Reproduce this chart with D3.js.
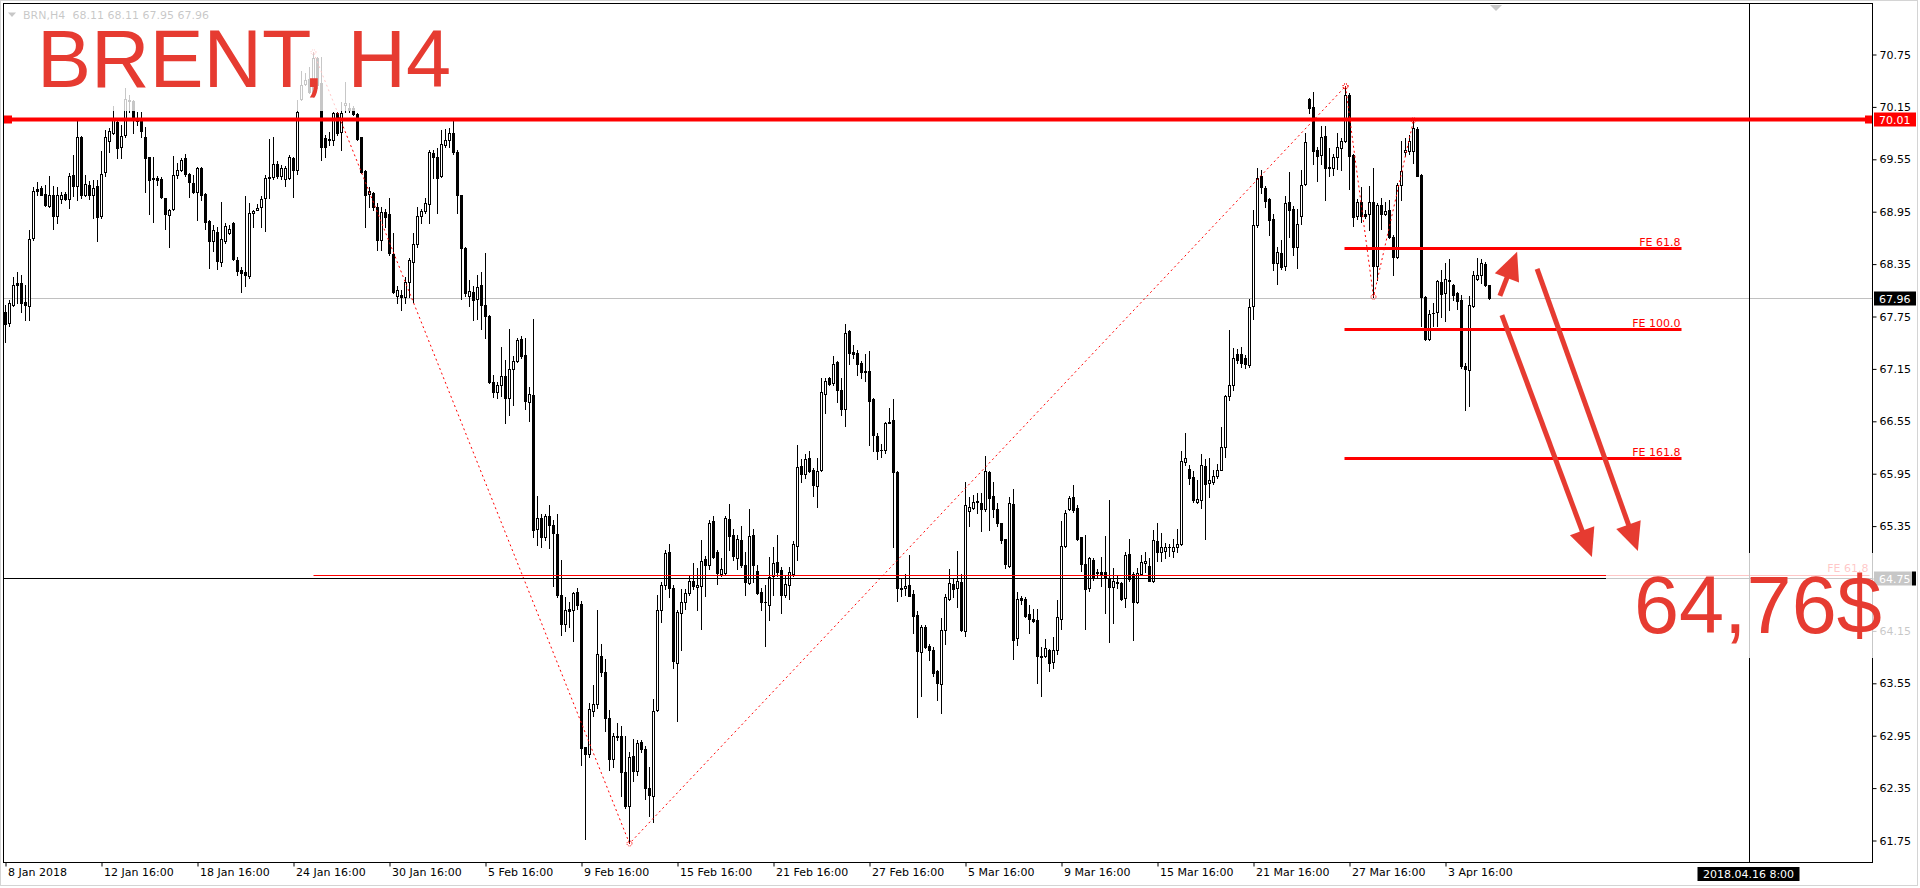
<!DOCTYPE html>
<html><head><meta charset="utf-8">
<script src="https://cdn.jsdelivr.net/npm/d3@7"></script>
<style>body{margin:0;background:#fff;overflow:hidden}svg{display:block}</style>
</head><body>
<svg id="c" width="1920" height="888"></svg>
<script>
// ---- data: BRN H4 candles (bar index 0 = 8 Jan 2018) ----
const openP = [
67.80,67.67,67.88,68.13,68.13,67.91,67.87,68.64,69.20,69.21,
69.15,69.01,69.14,68.89,69.09,69.15,69.09,69.36,69.24,69.80,
69.14,69.25,69.14,69.24,68.89,69.40,69.75,69.85,69.97,69.68,
69.82,70.22,70.21,70.00,70.00,69.80,69.57,69.33,69.33,69.32,
69.10,68.91,68.97,69.37,69.42,69.56,69.38,69.27,69.17,69.44,
69.15,68.84,68.61,68.71,68.37,68.61,68.70,68.82,68.39,68.28,
68.25,68.21,68.93,68.96,69.00,69.10,69.33,69.34,69.49,69.35,
69.32,69.33,69.56,69.42,70.23,70.41,70.46,70.30,70.70,70.42,
69.79,69.78,69.77,70.07,69.86,70.17,70.13,70.13,70.06,69.80,
69.41,69.15,69.16,69.00,68.62,68.94,68.92,68.46,67.98,67.99,
67.97,68.14,68.37,68.57,68.89,68.95,69.03,69.62,69.57,69.35,
69.71,69.77,69.84,69.63,69.13,68.53,67.98,68.03,67.94,68.10,
67.88,67.75,66.99,66.88,66.96,67.06,66.81,67.14,67.24,67.49,
67.30,66.77,66.84,65.31,65.44,65.22,65.46,65.36,65.25,64.55,
64.22,64.39,64.38,64.59,64.45,62.82,62.74,63.23,63.31,63.86,
63.67,63.15,62.68,62.94,62.94,62.53,62.14,62.71,62.54,62.87,
62.79,62.34,62.25,63.24,64.38,64.67,65.05,64.64,63.78,64.35,
64.47,64.58,64.71,64.65,64.66,64.97,64.90,65.40,65.05,64.80,
64.81,65.42,65.24,64.98,65.19,64.90,64.69,65.24,64.83,64.59,
64.48,64.44,64.77,64.93,64.84,64.55,64.67,64.80,65.12,66.03,
65.94,66.12,65.99,65.80,65.99,66.86,67.04,66.98,67.22,66.90,
66.69,67.58,67.34,67.33,67.21,67.12,67.12,66.80,66.38,66.22,
66.22,66.53,66.56,65.96,64.63,64.64,64.67,64.57,64.33,63.90,
64.19,63.97,63.92,63.68,63.54,64.15,64.51,64.68,64.64,64.70,
64.14,65.52,65.55,65.63,65.61,65.54,65.96,65.69,65.54,65.38,
65.20,64.89,65.60,64.06,64.52,64.51,64.34,64.28,64.27,63.86,
63.86,63.93,63.79,63.93,64.28,65.12,65.54,65.68,65.55,65.22,
64.91,64.63,64.96,64.82,64.82,64.82,64.75,64.65,64.70,64.69,
64.52,65.02,64.80,64.48,64.80,64.92,64.89,64.72,65.17,65.05,
65.06,65.10,65.06,65.10,65.14,66.08,66.00,65.91,65.62,65.64,
66.03,65.84,65.85,65.92,65.99,66.25,66.83,66.96,67.32,67.32,
67.27,67.19,67.86,68.79,69.35,69.22,69.09,68.86,68.36,68.47,
68.32,69.05,68.97,68.54,68.90,69.26,70.24,70.14,69.65,69.59,
69.81,69.46,69.45,69.57,69.67,69.75,70.28,69.59,68.89,69.06,
68.92,68.92,69.06,68.32,69.02,68.92,68.96,68.66,68.43,69.25,
69.63,69.64,69.64,69.89,69.37,67.97,67.49,67.78,67.80,68.14,
68.01,68.16,68.11,68.01,67.93,67.18,67.13,67.87,68.17,68.22,
68.34,68.11];
const highP = [
67.88,67.93,68.20,68.25,68.22,68.11,68.73,69.23,69.28,69.24,
69.25,69.35,69.24,69.23,69.17,69.17,69.39,69.59,69.99,69.81,
69.37,69.30,69.31,69.31,69.64,69.88,69.90,70.15,69.99,69.94,
70.36,70.28,70.22,70.09,70.09,69.91,69.57,69.57,69.35,69.34,
69.10,68.98,69.58,69.50,69.56,69.61,69.39,69.37,69.46,69.46,
69.16,68.85,68.79,68.77,69.06,68.82,68.79,68.83,68.43,68.31,
69.12,69.04,68.96,69.03,69.12,69.37,69.78,69.80,69.52,69.48,
69.47,69.59,69.57,70.22,70.55,70.53,70.60,70.77,70.72,70.72,
69.82,69.86,70.09,70.09,70.20,70.43,70.19,70.15,70.07,69.80,
69.42,69.23,69.17,69.04,69.00,68.98,69.10,68.70,68.09,68.05,
68.20,68.41,68.70,69.00,68.98,69.10,69.65,69.65,69.67,69.88,
69.89,69.90,69.99,69.65,69.14,68.54,68.16,68.09,68.22,68.25,
68.47,67.76,67.08,66.99,67.40,67.25,67.60,67.29,67.50,67.52,
67.50,66.94,67.72,65.69,65.48,65.48,65.59,65.41,65.48,64.96,
64.53,64.47,64.59,64.64,64.49,62.82,63.32,63.52,64.38,63.99,
63.82,63.24,62.98,63.09,63.06,62.94,62.76,62.91,62.89,62.89,
62.83,62.59,63.37,64.55,64.70,65.07,65.14,64.67,64.38,64.62,
64.62,64.79,64.92,64.87,65.18,65.00,65.41,65.46,65.07,64.98,
65.46,65.60,65.31,65.24,65.35,65.05,65.54,65.31,64.90,64.64,
64.67,64.99,65.11,65.24,64.88,64.77,64.88,65.17,66.27,66.11,
66.17,66.20,66.01,66.12,67.04,67.04,67.05,67.29,67.23,67.04,
67.66,67.59,67.42,67.36,67.23,67.31,67.35,66.81,66.41,66.28,
66.54,66.70,66.80,65.97,64.74,64.80,65.01,64.61,64.37,64.21,
64.21,64.00,63.96,63.70,64.29,64.57,64.85,64.75,65.06,64.80,
65.85,65.68,65.70,65.72,65.72,66.15,65.98,65.85,65.61,65.38,
65.20,65.68,65.77,64.59,64.54,64.53,64.44,64.40,64.40,63.96,
64.05,63.94,64.08,64.50,65.40,65.53,65.69,65.82,65.59,65.22,
65.24,64.99,64.98,64.85,64.99,65.23,65.64,64.87,64.77,64.70,
65.05,65.20,64.82,64.86,65.01,65.05,64.98,65.30,65.38,65.26,
65.15,65.14,65.20,65.31,66.20,66.41,66.04,65.97,65.87,66.17,
66.11,66.12,65.99,66.06,66.48,66.85,67.59,67.38,67.37,67.40,
67.30,67.95,68.96,69.44,69.42,69.24,69.10,68.92,68.54,68.62,
69.12,69.40,69.01,68.98,69.42,69.84,70.25,70.32,69.68,69.92,
69.92,69.67,69.61,69.84,69.79,70.38,70.30,69.61,69.09,69.23,
68.96,69.24,69.44,69.04,69.10,69.06,69.08,68.68,69.27,69.75,
69.79,69.82,69.99,69.91,69.38,67.98,67.82,67.90,68.16,68.28,
68.36,68.40,68.12,68.02,67.99,67.21,67.98,68.27,68.41,68.40,
68.37,68.11];
const lowP = [
67.45,67.63,67.86,67.90,67.80,67.70,67.70,68.62,69.14,69.14,
69.01,69.00,68.75,68.81,69.04,69.08,68.99,69.12,69.08,69.10,
69.12,69.09,68.87,68.61,68.87,69.35,69.63,69.83,69.56,69.56,
69.80,70.09,69.85,69.94,69.80,69.17,68.92,68.83,69.25,69.10,
68.75,68.54,68.96,69.33,69.41,69.35,69.11,69.16,68.85,69.08,
68.75,68.30,68.49,68.29,68.32,68.59,68.69,68.39,68.22,68.02,
68.09,68.19,68.77,68.96,68.77,68.72,69.10,69.32,69.33,69.32,
69.24,69.32,69.11,69.38,70.22,70.40,70.30,70.26,70.36,69.54,
69.57,69.71,69.71,69.82,69.65,70.09,70.09,70.05,69.77,69.39,
68.77,69.00,68.96,68.51,68.51,68.77,68.45,68.01,67.90,67.82,
67.90,67.97,67.91,68.54,68.81,68.93,68.81,69.33,68.93,69.34,
69.69,69.69,69.61,68.93,67.95,67.98,67.86,67.70,67.72,67.60,
67.50,66.98,66.82,66.81,66.83,66.52,66.62,66.73,67.22,67.27,
66.68,66.55,65.22,65.13,65.11,65.18,65.09,64.66,64.53,64.10,
64.14,64.19,64.03,64.40,62.61,61.76,62.70,63.17,63.26,63.63,
63.00,62.55,62.59,62.89,62.25,62.12,61.71,62.42,62.50,62.76,
62.22,62.03,61.96,63.23,64.25,64.62,64.53,63.72,63.11,63.93,
64.39,64.55,64.62,64.38,64.17,64.54,64.85,64.98,64.68,64.77,
64.79,65.07,64.96,64.85,64.88,64.55,64.68,64.70,64.57,64.38,
63.97,64.27,64.56,64.77,64.35,64.53,64.51,64.77,64.96,65.85,
65.90,65.96,65.69,65.56,65.98,66.64,66.96,66.96,66.77,66.62,
66.49,67.20,67.27,67.07,67.04,67.00,66.27,66.20,66.11,66.13,
66.18,66.52,65.11,64.49,64.54,64.56,64.54,64.12,63.16,63.40,
63.95,63.81,63.63,63.35,63.20,64.00,64.50,64.53,64.42,64.14,
64.09,65.35,65.54,65.49,65.29,65.52,65.30,65.45,65.34,65.15,
64.86,64.88,63.82,63.98,64.45,64.30,64.12,64.25,63.55,63.40,
63.85,63.68,63.72,63.88,64.17,65.10,65.53,65.51,65.19,64.83,
64.17,64.60,64.73,64.75,64.66,64.35,64.02,64.23,64.63,64.50,
64.42,64.72,64.04,64.46,64.79,64.82,64.71,64.70,64.95,64.95,
64.98,65.00,64.99,65.05,65.13,66.04,65.83,65.62,65.61,65.55,
65.20,65.68,65.83,65.90,65.99,66.14,66.79,66.90,67.21,67.17,
67.16,67.17,67.72,68.77,69.16,69.00,68.68,68.28,68.12,68.29,
68.28,68.66,68.45,68.30,68.80,69.25,70.07,69.49,69.30,69.49,
69.08,69.35,69.37,69.43,69.42,69.74,69.20,68.78,68.86,68.83,
68.87,68.74,67.97,68.16,68.75,68.91,68.64,68.22,68.41,69.08,
69.58,69.61,69.50,69.35,67.63,67.48,67.48,67.63,67.63,67.74,
67.69,67.82,67.93,67.83,67.15,66.67,66.72,67.85,68.16,68.13,
68.09,67.95];
const closeP = [
67.66,67.90,68.11,68.10,67.90,67.88,68.63,69.18,69.18,69.14,
69.02,69.14,68.89,69.13,69.14,69.09,69.35,69.24,69.80,69.13,
69.26,69.14,69.22,68.88,69.38,69.80,69.87,69.99,69.67,69.81,
70.23,70.21,70.00,69.98,69.87,69.56,69.31,69.32,69.31,69.11,
68.92,68.96,69.37,69.42,69.54,69.38,69.28,69.17,69.45,69.13,
68.83,68.61,68.74,68.38,68.63,68.78,68.75,68.40,68.26,68.24,
68.22,68.93,68.95,68.99,69.09,69.33,69.34,69.49,69.35,69.45,
69.45,69.57,69.42,70.09,70.39,70.45,70.32,70.70,70.40,69.68,
69.68,69.77,70.07,69.85,70.08,70.19,70.11,70.06,69.78,69.40,
69.14,69.18,69.00,68.62,68.94,68.88,68.47,68.03,68.05,67.97,
68.14,68.39,68.58,68.89,68.95,69.04,69.63,69.57,69.33,69.72,
69.77,69.85,69.63,69.13,68.53,68.01,68.04,67.93,68.08,67.88,
67.75,66.99,66.88,66.96,67.06,66.81,67.14,67.24,67.48,67.29,
66.78,66.86,65.30,65.44,65.22,65.46,65.36,65.26,64.55,64.22,
64.38,64.37,64.58,64.44,62.80,62.74,63.25,63.31,63.88,63.67,
63.15,62.68,62.94,62.93,62.53,62.14,62.70,62.54,62.86,62.79,
62.35,62.27,63.23,64.38,64.67,65.04,64.64,63.80,64.36,64.47,
64.58,64.72,64.66,64.67,64.95,64.90,65.38,64.99,64.81,64.85,
65.44,65.23,65.00,65.20,64.90,64.70,65.23,64.90,64.58,64.48,
64.47,64.76,64.92,64.82,64.55,64.68,64.82,65.14,66.02,65.94,
66.11,65.98,65.81,65.98,66.88,67.01,66.97,67.20,66.90,66.69,
67.56,67.33,67.32,67.20,67.11,67.11,66.78,66.39,66.20,66.21,
66.53,66.54,65.96,64.63,64.62,64.66,64.54,64.31,63.91,64.19,
63.96,63.92,63.66,63.55,64.16,64.53,64.69,64.62,64.71,64.15,
65.59,65.56,65.62,65.62,65.54,65.98,65.67,65.54,65.38,65.18,
64.91,65.61,64.04,64.51,64.50,64.32,64.28,64.26,63.86,63.85,
63.95,63.78,63.93,64.30,65.12,65.49,65.67,65.53,65.20,64.91,
64.62,64.98,64.75,64.81,64.80,64.75,64.65,64.71,64.69,64.51,
65.01,64.74,64.47,64.81,64.93,64.94,64.72,65.19,65.05,65.10,
65.10,65.11,65.11,65.14,66.09,66.12,65.90,65.64,65.66,66.04,
65.83,65.87,65.92,65.99,66.25,66.83,66.96,67.27,67.25,67.21,
67.20,67.85,68.79,69.33,69.23,69.07,68.85,68.36,68.48,68.31,
69.04,68.96,68.54,68.80,69.25,69.74,70.13,69.64,69.58,69.80,
69.45,69.44,69.57,69.68,69.75,70.28,69.58,68.88,69.05,68.89,
68.90,69.06,68.32,69.02,68.92,68.95,68.66,68.43,69.25,69.41,
69.65,69.75,69.90,69.35,67.97,67.49,67.77,67.79,68.15,68.00,
68.17,68.15,67.99,67.92,67.18,67.14,67.88,68.22,68.22,68.36,
68.11,67.96];

const timeTickIdx = [0,24,48,72,96,120,144,168,192,216,240,264,288,312,336,360];
const timeLabels = ["8 Jan 2018","12 Jan 16:00","18 Jan 16:00","24 Jan 16:00","30 Jan 16:00","5 Feb 16:00","9 Feb 16:00","15 Feb 16:00","21 Feb 16:00","27 Feb 16:00","5 Mar 16:00","9 Mar 16:00","15 Mar 16:00","21 Mar 16:00","27 Mar 16:00","3 Apr 16:00"];
const priceTicks = [70.75,70.15,69.55,68.95,68.35,67.75,67.15,66.55,65.95,65.35,64.75,64.15,63.55,62.95,62.35,61.75];

const resistance = 70.01;          // red horizontal line
const bidPrice = 67.96;            // bid line
const hlinePrice = 64.755;         // black horizontal line (label 64.75)
const vlineIdx = 436, vlineLabel = "2018.04.16 8:00";
const fe1Points = [{i:77,p:70.77},{i:156,p:61.71},{i:335,p:70.38}];
const fe1Levels = [{label:"FE 61.8", p:64.78}];
const fe1Range = [77, 466];
const fe2Points = [{i:335,p:70.38},{i:342,p:67.97},{i:352,p:69.99}];
const fe2Levels = [{label:"FE 61.8",p:68.53},{label:"FE 100.0",p:67.60},{label:"FE 161.8",p:66.12}];
const fe2Range = [335, 419];
const arrows = [
  {from:{i:373.6,p:67.98}, to:{i:377.9,p:68.485}},
  {from:{i:374.1,p:67.76}, to:{i:396.6,p:64.99}},
  {from:{i:382.9,p:68.29}, to:{i:408.1,p:65.06}}
];
const header = {sym:"BRN,H4", ohlc:"68.11 68.11 67.95 67.96"};
const titleText = "BRENT, H4";
const targetText = "64,76$";

// ---- drawing ----
const svg = d3.select("#c");
const FONT = "'DejaVu Sans', Tahoma, sans-serif";
const ACC = "#e63b31";
const L = 3.5, T = 3.5, R = 1872.5, B = 862.5;
const x = d3.scaleLinear().domain([0, 436]).range([5.5, 1749.5]);
const y = d3.scaleLinear().domain([61.75, 70.75]).range([840, 54]);
const py = p => Math.round(y(p));
const hy = p => Math.round(y(p)) + 0.5;

svg.append("rect").attr("width",1920).attr("height",888).attr("fill","#fff");
svg.append("rect").attr("x",0.5).attr("y",0.5).attr("width",1917).attr("height",885)
  .attr("fill","none").attr("stroke","#d4d4d4");

svg.append("defs").append("clipPath").attr("id","clip")
  .append("rect").attr("x",L+0.5).attr("y",T+0.5).attr("width",R-L-1).attr("height",B-T-1);
const plot = svg.append("g").attr("clip-path","url(#clip)");

// header (drawn black, later veiled)
plot.append("path").attr("d","M8,12.5L16,12.5L12,17Z").attr("fill","#000");
plot.append("text").attr("x",23).attr("y",18.5).attr("font-family",FONT).attr("font-size",11)
  .attr("fill","#000").text(header.sym);
plot.append("text").attr("x",72.5).attr("y",18.5).attr("font-family",FONT).attr("font-size",11)
  .attr("fill","#000").text(header.ohlc);

// bid line (behind candles)
plot.append("line").attr("x1",L).attr("x2",R).attr("y1",hy(bidPrice)).attr("y2",hy(bidPrice))
  .attr("stroke","#c0c0c0");

// candles
const bars = openP.map((o,i)=>({i,o,h:Math.max(highP[i],o,closeP[i]),l:Math.min(lowP[i],o,closeP[i]),c:closeP[i]}));
plot.append("g").selectAll("line").data(bars).join("line")
  .attr("x1",d=>x(d.i)).attr("x2",d=>x(d.i))
  .attr("y1",d=>py(d.h)).attr("y2",d=>py(d.l)+1)
  .attr("stroke","#000").attr("stroke-width",1);
const bodies = plot.append("g");
bars.forEach(d=>{
  const top = py(Math.max(d.o,d.c)), bot = py(Math.min(d.o,d.c));
  const cx = x(d.i);
  if (d.c > d.o && bot - top >= 2) {
    bodies.append("rect").attr("x",cx-1).attr("y",top+0.5).attr("width",2).attr("height",bot-top)
      .attr("fill","#fff").attr("stroke","#000").attr("stroke-width",1);
  } else {
    bodies.append("rect").attr("x",cx-1.5).attr("y",top).attr("width",3).attr("height",Math.max(1,bot-top+1))
      .attr("fill","#000");
  }
});

// fibo expansion 1
const line = d3.line().x(d=>x(d.i)).y(d=>y(d.p));
plot.append("path").attr("d",line(fe1Points)).attr("fill","none").attr("stroke","#ff0000")
  .attr("stroke-width",1).attr("stroke-dasharray","2,3");
fe1Levels.forEach(lv=>{
  plot.append("line").attr("x1",x(fe1Range[0])).attr("x2",x(fe1Range[1])).attr("y1",hy(lv.p)).attr("y2",hy(lv.p))
    .attr("stroke","#ff0000").attr("stroke-width",1);
  plot.append("text").attr("x",x(fe1Range[1])-1).attr("y",py(lv.p)-3).attr("text-anchor","end")
    .attr("font-family",FONT).attr("font-size",11).attr("fill","#ff0000").text(lv.label);
});
// horizontal black line
plot.append("line").attr("x1",L).attr("x2",R).attr("y1",hy(hlinePrice)).attr("y2",hy(hlinePrice))
  .attr("stroke","#000");

// fibo expansion 2
plot.append("path").attr("d",line(fe2Points)).attr("fill","none").attr("stroke","#ff0000")
  .attr("stroke-width",1).attr("stroke-dasharray","2,3");
fe2Levels.forEach(lv=>{
  plot.append("line").attr("x1",x(fe2Range[0])-1).attr("x2",x(fe2Range[1])).attr("y1",py(lv.p)+0.5).attr("y2",py(lv.p)+0.5)
    .attr("stroke","#ff0000").attr("stroke-width",3);
  plot.append("text").attr("x",x(fe2Range[1])-1).attr("y",py(lv.p)-2).attr("text-anchor","end")
    .attr("font-family",FONT).attr("font-size",11).attr("fill","#ff0000").text(lv.label);
});
// anchor markers
[...fe1Points, ...fe2Points].forEach(pt=>{
  plot.append("circle").attr("cx",x(pt.i)).attr("cy",y(pt.p)).attr("r",2.5).attr("fill","none")
    .attr("stroke","#ff0000").attr("stroke-width",1).attr("stroke-dasharray","1,1");
});

// vertical line
plot.append("line").attr("x1",x(vlineIdx)).attr("x2",x(vlineIdx)).attr("y1",T).attr("y2",B).attr("stroke","#000");

// resistance line with handles
plot.append("line").attr("x1",L).attr("x2",R).attr("y1",py(resistance)+0.5).attr("y2",py(resistance)+0.5)
  .attr("stroke","#ff0000").attr("stroke-width",4);
plot.append("rect").attr("x",4).attr("y",py(resistance)-3.5).attr("width",8).attr("height",8).attr("fill","#ff0000");
plot.append("rect").attr("x",1865).attr("y",py(resistance)-3.5).attr("width",8).attr("height",8).attr("fill","#ff0000");

// chart shift marker
plot.append("path").attr("d","M1490,5L1502,5L1496,11Z").attr("fill","#c8c8c8");

// arrows
arrows.forEach(a=>{
  const x0=x(a.from.i), y0=y(a.from.p), x1=x(a.to.i), y1=y(a.to.p);
  const dx=x1-x0, dy=y1-y0, len=Math.hypot(dx,dy), ux=dx/len, uy=dy/len;
  const hl=28, hw=13;
  const bx=x1-ux*hl, by=y1-uy*hl;
  svg.append("line").attr("x1",x0).attr("y1",y0).attr("x2",bx+ux*3).attr("y2",by+uy*3)
    .attr("stroke",ACC).attr("stroke-width",5);
  svg.append("path").attr("d",`M${x1},${y1}L${bx-uy*hw},${by+ux*hw}L${bx+uy*hw},${by-ux*hw}Z`).attr("fill",ACC);
});

// frame
svg.append("rect").attr("x",L).attr("y",T).attr("width",R-L).attr("height",B-T)
  .attr("fill","none").attr("stroke","#000");

// price axis
const yAxis = d3.axisRight(y).tickValues(priceTicks).tickSize(4).tickFormat(d3.format(".2f"));
const gy = svg.append("g").attr("transform",`translate(${R},0.5)`).call(yAxis);
gy.select(".domain").remove();
gy.selectAll("text").attr("font-family",FONT).attr("font-size",11).attr("fill","#000").attr("x",7);
gy.selectAll("line").attr("stroke","#000");

// time axis
const xAxis = d3.axisBottom(x).tickValues(timeTickIdx).tickSize(4).tickFormat((d,k)=>timeLabels[k]);
const gx = svg.append("g").attr("transform",`translate(0,${B})`).call(xAxis);
gx.select(".domain").remove();
gx.selectAll("text").attr("font-family",FONT).attr("font-size",11).attr("fill","#000")
  .attr("text-anchor","start").attr("x",2).attr("y",6);
gx.selectAll("line").attr("stroke","#000");

// axis value boxes
function axisBox(p, bg, fg, txt){
  const cy = py(p);
  svg.append("rect").attr("x",1874).attr("y",cy-6.5).attr("width",42).attr("height",14).attr("fill",bg);
  svg.append("text").attr("x",1879).attr("y",cy+4.5).attr("font-family",FONT).attr("font-size",11)
    .attr("fill",fg).text(txt);
}
axisBox(resistance,"#ff0000","#fff",resistance.toFixed(2));
axisBox(bidPrice,"#000","#fff",bidPrice.toFixed(2));
axisBox(hlinePrice,"#000","#fff","64.75");
// time box for vertical line
svg.append("rect").attr("x",x(vlineIdx)-52).attr("y",867).attr("width",102).attr("height",14).attr("fill","#000");
svg.append("text").attr("x",x(vlineIdx)-1).attr("y",878).attr("text-anchor","middle").attr("font-family",FONT)
  .attr("font-size",11).attr("fill","#fff").text(vlineLabel);

// veils behind the big labels
svg.append("rect").attr("x",5).attr("y",5).attr("width",465).attr("height",106).attr("fill","#fff").attr("opacity",0.78);
svg.append("rect").attr("x",1606).attr("y",553).attr("width",306).attr("height",105).attr("fill","#fff").attr("opacity",0.78);

// big labels
svg.append("text").attr("x",37).attr("y",87).attr("font-family","'Liberation Sans', Arial, sans-serif")
  .attr("font-size",81).attr("fill",ACC).text(titleText);
svg.append("text").attr("x",1634).attr("y",633).attr("font-family","'Liberation Sans', Arial, sans-serif")
  .attr("font-size",81).attr("fill",ACC).text(targetText);
</script>
</body></html>
